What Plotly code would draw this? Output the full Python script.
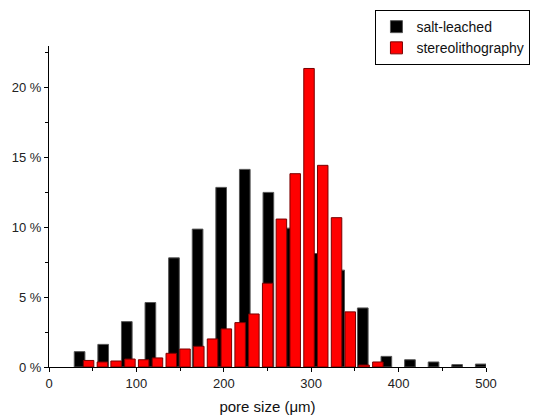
import plotly.graph_objects as go

# ---- data ----
salt_x = [35, 62, 89, 116, 143, 170, 197, 224, 251, 278, 305, 332, 359, 386, 413, 440, 467, 494]
salt_y = [1.10, 1.62, 3.25, 4.62, 7.82, 9.88, 12.87, 14.16, 12.51, 9.95, 8.13, 6.94, 4.23,
          0.76, 0.52, 0.36, 0.17, 0.21]

stereo_x = [45.3, 61.1, 76.8, 92.6, 108.3, 124.1, 139.9, 155.6, 171.4, 187.1, 202.9, 218.7,
            234.4, 250.2, 265.9, 281.7, 297.5, 313.2, 329.0, 344.7, 360.5, 376.3]
stereo_y = [0.47, 0.36, 0.43, 0.57, 0.52, 0.65, 0.98, 1.29, 1.48, 2.01, 2.73, 3.18,
            3.80, 6.00, 10.60, 13.85, 21.39, 14.45, 10.70, 3.95, 0.14, 0.36]

series_names = ["salt-leached", "stereolithography"]
x_ticks = [0, 100, 200, 300, 400, 500]
y_ticks = [0, 5, 10, 15, 20]

FONT = "Arial, 'Liberation Sans', sans-serif"

fig = go.Figure()
fig.add_trace(go.Bar(
    x=salt_x, y=salt_y, name=series_names[0], width=12.2,
    marker=dict(color="#000000", line=dict(color="#555555", width=1)),
))
fig.add_trace(go.Bar(
    x=stereo_x, y=stereo_y, name=series_names[1], width=12,
    marker=dict(color="#ff0000", line=dict(color="#7a0000", width=1)),
))

# the page adds an 8 px body margin, so the figure is sized to fit the window
fig.update_layout(
    width=540, height=410,
    barmode="overlay",
    paper_bgcolor="white", plot_bgcolor="white",
    margin=dict(l=41, r=61.5, t=38, b=50.7, autoexpand=False),
    font=dict(family=FONT, size=13, color="#222222"),
    showlegend=True,
    legend=dict(
        x=0.747, y=1.112, xanchor="left", yanchor="top",
        bordercolor="#000000", borderwidth=1, bgcolor="white",
        font=dict(family=FONT, size=14, color="#111111"),
        tracegroupgap=0, traceorder="normal",
    ),
    xaxis=dict(
        range=[0, 500], tickmode="array", tickvals=x_ticks,
        ticktext=[str(v) for v in x_ticks],
        showline=True, linecolor="#000000", linewidth=1, mirror=False,
        ticks="outside", ticklen=4, tickcolor="#000000", tickwidth=1,
        minor=dict(ticks="outside", ticklen=3, dtick=50, tick0=0, tickcolor="#000000"),
        showgrid=False, zeroline=False,
        tickfont=dict(size=13),
        title=dict(text="pore size (μm)", font=dict(size=15, color="#111111"), standoff=11),
    ),
    yaxis=dict(
        range=[0, 23], tickmode="array", tickvals=y_ticks,
        ticktext=[f"{v} %" for v in y_ticks],
        showline=True, linecolor="#000000", linewidth=1, mirror=False,
        ticks="outside", ticklen=4, tickcolor="#000000", tickwidth=1,
        minor=dict(ticks="outside", ticklen=3, dtick=2.5, tick0=0, tickcolor="#000000"),
        showgrid=False, zeroline=False,
        tickfont=dict(size=13),
    ),
)

fig.write_html("out.html")
